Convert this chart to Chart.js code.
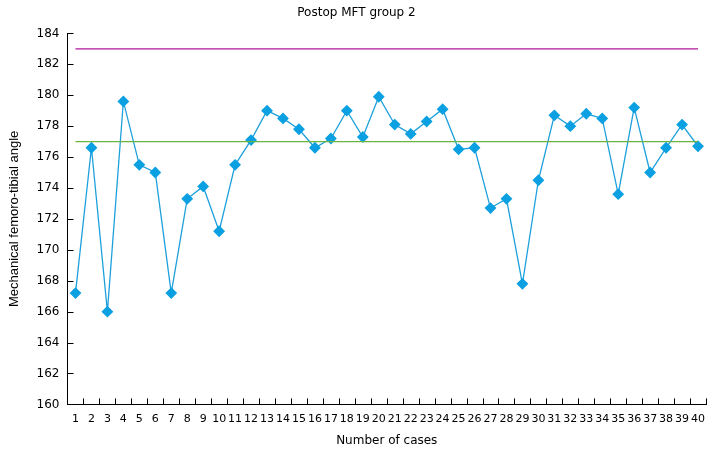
<!DOCTYPE html>
<html>
<head>
<meta charset="utf-8">
<script src="https://cdn.jsdelivr.net/npm/chart.js@4"></script>
<style>
  html, body { margin: 0; padding: 0; background: #fff; }
  #wrap { width: 717px; height: 453px; }
</style>
</head>
<body>
<div id="wrap"><canvas id="chart"></canvas></div>
<script>
const cases = ['1','2','3','4','5','6','7','8','9','10','11','12','13','14','15','16','17','18','19','20',
  '21','22','23','24','25','26','27','28','29','30','31','32','33','34','35','36','37','38','39','40'];

const angles = [167.2, 176.6, 166.0, 179.6, 175.5, 175.0, 167.2, 173.3, 174.1, 171.2,
  175.5, 177.1, 179.0, 178.5, 177.8, 176.6, 177.2, 179.0, 177.3, 179.9,
  178.1, 177.5, 178.3, 179.1, 176.5, 176.6, 172.7, 173.3, 167.8, 174.5,
  178.7, 178.0, 178.8, 178.5, 173.6, 179.2, 175.0, 176.6, 178.1, 176.7];

// reference lines, drawn from first to last case
const upperRef = 183;
const lowerRef = 177;

const yTicks = [160, 162, 164, 166, 168, 170, 172, 174, 176, 178, 180, 182, 184];

// short tick marks drawn inside the plot area
const innerTicks = {
  id: 'innerTicks',
  afterDraw(chart) {
    const { ctx, chartArea, scales: { x, y } } = chart;
    ctx.save();
    ctx.strokeStyle = '#000';
    ctx.lineWidth = 1;
    ctx.beginPath();
    yTicks.forEach(v => {
      const py = Math.round(y.getPixelForValue(v)) + 0.5;
      ctx.moveTo(chartArea.left, py);
      ctx.lineTo(chartArea.left + 6, py);
    });
    const w = x.getPixelForValue(1) - x.getPixelForValue(0);
    for (let i = 1; i <= cases.length; i++) {
      const px = Math.round(x.getPixelForValue(i) - w / 2) + 0.5;
      ctx.moveTo(px, chartArea.bottom);
      ctx.lineTo(px, chartArea.bottom - 6);
    }
    ctx.stroke();
    ctx.restore();
  }
};

new Chart(document.getElementById('chart'), {
  type: 'line',
  data: {
    labels: cases,
    datasets: [
      {
        data: [{ x: cases[0], y: upperRef }, { x: cases[cases.length - 1], y: upperRef }],
        borderColor: '#b0179a',
        borderWidth: 1.3,
        pointRadius: 0
      },
      {
        data: [{ x: cases[0], y: lowerRef }, { x: cases[cases.length - 1], y: lowerRef }],
        borderColor: '#6db33f',
        borderWidth: 1.3,
        pointRadius: 0
      },
      {
        data: angles,
        borderColor: '#1ea0dc',
        borderWidth: 1.3,
        pointStyle: 'rectRot',
        pointRadius: 5,
        pointBackgroundColor: '#0aa0e2',
        pointBorderColor: '#0aa0e2',
        tension: 0
      }
    ]
  },
  options: {
    responsive: true,
    maintainAspectRatio: false,
    animation: false,
    layout: { padding: { left: 7, right: 11, top: 0, bottom: 5 } },
    plugins: {
      legend: { display: false },
      tooltip: { enabled: false },
      title: {
        display: true,
        text: 'Postop MFT group 2',
        color: '#000',
        font: { family: 'DejaVu Sans', size: 12, weight: 'normal' },
        padding: { top: 6, bottom: 13 }
      }
    },
    scales: {
      x: {
        type: 'category',
        offset: true,
        grid: { display: false, drawTicks: false },
        border: { display: true, color: '#000', width: 1 },
        ticks: {
          autoSkip: false,
          maxRotation: 0,
          minRotation: 0,
          padding: 8,
          color: '#000',
          font: { family: 'DejaVu Sans', size: 11 }
        },
        title: {
          display: true,
          text: 'Number of cases',
          color: '#000',
          font: { family: 'DejaVu Sans', size: 12 },
          padding: { top: 0, bottom: 0 }
        }
      },
      y: {
        min: 160,
        max: 184,
        grid: { display: false, drawTicks: false },
        border: { display: true, color: '#000', width: 1 },
        afterBuildTicks: axis => { axis.ticks = yTicks.map(v => ({ value: v })); },
        ticks: {
          padding: 8,
          color: '#000',
          font: { family: 'DejaVu Sans', size: 12 }
        },
        title: {
          display: true,
          text: 'Mechanical femoro-tibial angle',
          color: '#000',
          font: { family: 'Liberation Sans', size: 13 },
          padding: { top: 0, bottom: 6 }
        }
      }
    }
  },
  plugins: [innerTicks]
});
</script>
</body>
</html>
